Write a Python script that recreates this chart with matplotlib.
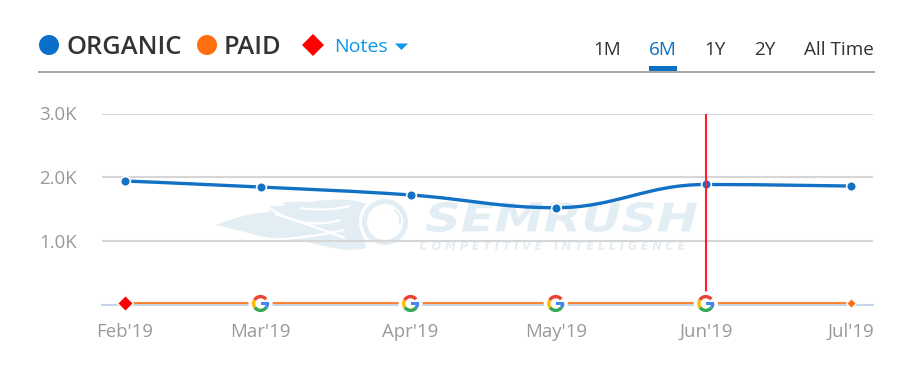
import numpy as np
import pandas as pd
import matplotlib
matplotlib.use('Agg')
import matplotlib.pyplot as plt
from matplotlib.path import Path
from matplotlib.textpath import TextPath
from matplotlib.font_manager import FontProperties
from matplotlib.transforms import Affine2D
from matplotlib.patches import PathPatch, Circle, Wedge, Polygon, Rectangle

plt.rcParams['font.family'] = ['Open Sans', 'DejaVu Sans']

# data
months = ['2019-02-01', '2019-03-01', '2019-04-01', '2019-05-01', '2019-06-01', '2019-07-01']
month_labels = ["Feb'19", "Mar'19", "Apr'19", "May'19", "Jun'19", "Jul'19"]
organic = [1940, 1845, 1720, 1520, 1885, 1860]
paid = [25, 25, 25, 25, 25, 25]
y_ticks = [1000, 2000, 3000]
y_labels = ['1.0K', '2.0K', '3.0K']
tabs = ['1M', '6M', '1Y', '2Y', 'All Time']
tab_x = [607.5, 662.5, 715, 765, 838.5]
google_months = [1, 2, 3, 4]
selected_month = 4

W, H = 907, 385
BLUE = '#1271c4'
ORANGE = '#ff6f0f'
RED = '#ff1f2f'
WM = '#e3edf4'

x = pd.to_datetime(months).map(lambda d: d.toordinal()).to_numpy(dtype=float)
y = np.array(organic, dtype=float)
px_per_day = (851 - 125) / (x[-1] - x[0])

fig = plt.figure(figsize=(W / 100, H / 100), dpi=100)

# pixel canvas under the chart (watermark)
bg = fig.add_axes([0, 0, 1, 1], zorder=0)
bg.set_xlim(0, W)
bg.set_ylim(H, 0)
bg.axis('off')


def fitted_text(s, x0, x1, y_top, y_base, **font):
    # stretch the glyph outlines to a pixel box
    tp = TextPath((0, 0), s, size=10, prop=FontProperties(**font))
    b = tp.get_extents()
    flip = Affine2D().translate(-b.x0, -b.y0).scale((x1 - x0) / b.width, -(y_base - y_top) / b.height).translate(x0, y_base)
    bg.add_patch(PathPatch(flip.transform_path(tp), fc=WM, ec='none'))


body = Path([(216, 225), (245, 213), (270, 212), (262, 205), (285, 206), (275, 200), (310, 202),
             (345, 196), (368, 204), (358, 222), (366, 248), (345, 254), (300, 240), (268, 240), (245, 232), (216, 225)],
            [Path.MOVETO] + [Path.CURVE3] * 14 + [Path.CLOSEPOLY])
bg.add_patch(PathPatch(body, fc=WM, ec='none'))
for p0, pc, p1 in [((262, 203), (300, 232), (340, 220)), ((275, 214), (320, 228), (345, 238)),
                   ((300, 208), (325, 212), (350, 206)), ((268, 240), (310, 238), (344, 230))]:
    bg.add_patch(PathPatch(Path([p0, pc, p1], [Path.MOVETO, Path.CURVE3, Path.CURVE3]), fc='none', ec='white', lw=1.6))
bg.add_patch(Circle((385, 222), 26, fc='white', ec='none'))
bg.add_patch(Wedge((385, 222), 23, 0, 360, width=5, fc=WM, ec='none'))
bg.add_patch(Wedge((388, 220), 13, -60, 20, width=2, fc=WM, ec='none'))
fitted_text('SEMRUSH', 426, 697, 202, 232, family='DejaVu Sans', weight='bold', style='oblique')
fitted_text('C O M P E T I T I V E   I N T E L L I G E N C E', 420, 685, 241, 250,
            family='DejaVu Sans', weight='bold', style='oblique')

# main chart
ax = fig.add_axes([102 / W, 1 - 304.5 / H, (873 - 102) / W, (304.5 - 113.5) / H], zorder=1)
ax.patch.set_alpha(0)
ax.set_xlim(x[0] - (125 - 102) / px_per_day, x[0] + (873 - 125) / px_per_day)
ax.set_ylim(0, 3000)
for s in ax.spines.values():
    s.set_visible(False)
ax.set_yticks(y_ticks)
ax.set_yticklabels(y_labels)
ax.set_xticks(x)
ax.set_xticklabels(month_labels)
ax.tick_params(axis='both', length=0, labelsize=13.4, labelcolor='#999999')
ax.tick_params(axis='x', pad=13)
ax.tick_params(axis='y', pad=18)
ax.grid(axis='y', color='#d6d6d6', lw=1.5)
ax.set_axisbelow(True)
ax.axhline(0, color='#c6d6e6', lw=1.5, clip_on=False, zorder=1)


def spline_path(xs, ys, smoothing=1.5):
    # same idea as a highcharts spline: controls along the neighbours' slope
    n = len(xs)
    right = {}
    left = {}
    for i in range(1, n - 1):
        lx = (smoothing * xs[i] + xs[i - 1]) / (smoothing + 1)
        rx = (smoothing * xs[i] + xs[i + 1]) / (smoothing + 1)
        ly = (smoothing * ys[i] + ys[i - 1]) / (smoothing + 1)
        ry = (smoothing * ys[i] + ys[i + 1]) / (smoothing + 1)
        c = (ry - ly) * (rx - xs[i]) / (rx - lx) + ys[i] - ry
        ly += c
        ry += c
        if (ys[i] - ys[i - 1]) * (ys[i + 1] - ys[i]) < 0:
            ly = ry = ys[i]
        left[i] = (lx, ly)
        right[i] = (rx, ry)
    verts = [(xs[0], ys[0])]
    codes = [Path.MOVETO]
    for i in range(n - 1):
        verts += [right.get(i, (xs[i], ys[i])), left.get(i + 1, (xs[i + 1], ys[i + 1])), (xs[i + 1], ys[i + 1])]
        codes += [Path.CURVE4] * 3
    return Path(verts, codes)


ax.plot(x, paid, color=ORANGE, alpha=0.85, lw=1.5, zorder=3, clip_on=False)
ax.add_patch(PathPatch(spline_path(x, y), fc='none', ec=BLUE, lw=2.4, zorder=4, capstyle='round'))
ax.plot(x, y, ls='none', marker='o', ms=7, mfc=BLUE, mec='white', mew=1.2, zorder=5)
ax.plot([x[selected_month]] * 2, [60, 3000], color=RED, lw=1.5, zorder=6)
ax.plot(x[-1], paid[-1], ls='none', marker='D', ms=5, mfc=ORANGE, mec='white', mew=1, zorder=6, clip_on=False)
ax.plot(x[0], paid[0], ls='none', marker='D', ms=8, mfc='#ff0000', mec='white', mew=1, zorder=6, clip_on=False)

# pixel canvas over the chart (header, google icons)
ov = fig.add_axes([0, 0, 1, 1], zorder=2)
ov.set_xlim(0, W)
ov.set_ylim(H, 0)
ov.axis('off')
ov.patch.set_alpha(0)


def google_icon(cx, cy, r=8.6):
    ov.add_patch(Circle((cx, cy), r + 3.5, fc='white', ec='none'))
    w = 3.4
    ov.add_patch(Wedge((cx, cy), r, -150, -38, width=w, fc='#ea4335', ec='none'))
    ov.add_patch(Wedge((cx, cy), r, -215, -150, width=w, fc='#fbbc05', ec='none'))
    ov.add_patch(Wedge((cx, cy), r, 35, 145, width=w, fc='#34a853', ec='none'))
    ov.add_patch(Wedge((cx, cy), r, 0, 35, width=w, fc='#4285f4', ec='none'))
    ov.add_patch(Rectangle((cx, cy - 1.7), r, 3.4, fc='#4285f4', ec='none'))


for i in google_months:
    px = 125 + (x[i] - x[0]) * px_per_day
    google_icon(px, 303.5)

# header
ov.plot([38, 875], [71.5, 71.5], color='#a8a8a8', lw=1.5, solid_capstyle='butt')
ov.add_patch(Rectangle((649, 66), 28, 4.5, fc='#0a6fc2', ec='none'))
ov.add_patch(Circle((49, 45), 10, fc='#0a6fc8', ec='none'))
ov.text(66, 47, 'ORGANIC', fontsize=18.4, weight='semibold', color='#333333', va='center')
ov.add_patch(Circle((207, 45), 10, fc=ORANGE, ec='none'))
ov.text(224, 47, 'PAID', fontsize=18.4, weight='semibold', color='#333333', va='center')
ov.add_patch(Polygon([(302, 45), (313, 34), (324, 45), (313, 56)], closed=True, fc='#ff0000', ec='none'))
ov.text(334, 46.5, 'Notes', fontsize=14, color='#0a96e8', va='center')
ov.add_patch(Polygon([(395, 43.5), (408, 43.5), (401.5, 50)], closed=True, fc='#0a96e8', ec='none'))
for t, tx in zip(tabs, tab_x):
    ov.text(tx, 50, t, fontsize=13.6, ha='center', va='center', color='#0a6fc2' if t == '6M' else '#333333')

fig.savefig('out.png', dpi=100)
